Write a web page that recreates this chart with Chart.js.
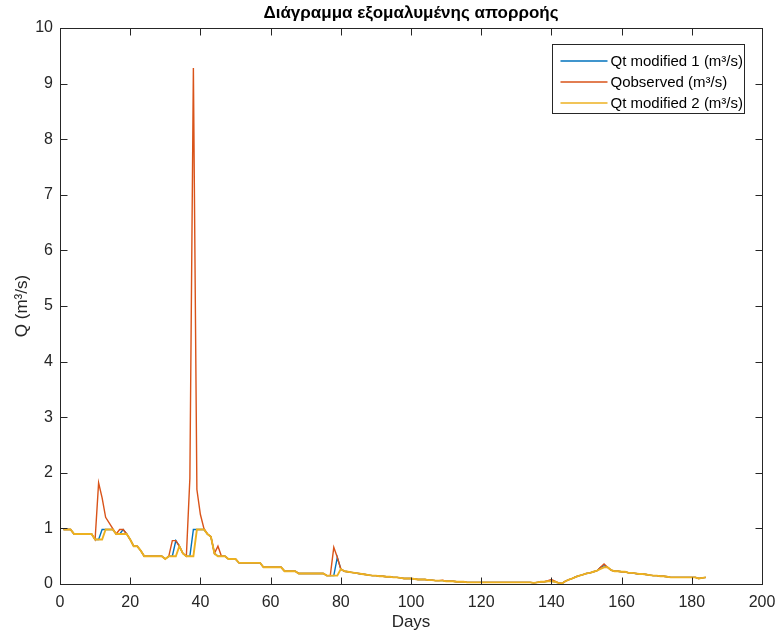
<!DOCTYPE html>
<html lang="el">

<head>
    <meta charset="UTF-8">
    <title>Διάγραμμα εξομαλυμένης απορροής</title>
    <script src="https://cdn.jsdelivr.net/npm/chart.js"></script>
    <style>
        body { margin: 0; background: #fff; }
        #wrap { width: 778px; height: 635px; }
    </style>
</head>

<body>
    <div id="wrap"><canvas id="flowChart"></canvas></div>

    <script>
        // series values, one per day (day 1 .. 184)
        const qtModified1 = [
            0.98, 0.98, 0.98, 0.9, 0.9, 0.9, 0.9, 0.9, 0.9, 0.8,
            0.8, 0.98, 0.98, 0.98, 0.98, 0.9, 0.9, 0.98, 0.9, 0.8,
            0.68, 0.68, 0.6, 0.5, 0.5, 0.5, 0.5, 0.5, 0.5, 0.45,
            0.5, 0.5, 0.78, 0.68, 0.55, 0.5, 0.5, 0.98, 0.98, 0.98,
            0.98, 0.9, 0.85, 0.55, 0.5, 0.5, 0.5, 0.45, 0.45, 0.45,
            0.38, 0.38, 0.38, 0.38, 0.38, 0.38, 0.38, 0.3, 0.3, 0.3,
            0.3, 0.3, 0.3, 0.23, 0.23, 0.23, 0.23, 0.19, 0.19, 0.19,
            0.19, 0.19, 0.19, 0.19, 0.19, 0.15, 0.15, 0.15, 0.48, 0.27,
            0.23, 0.22, 0.21, 0.2, 0.19, 0.18, 0.17, 0.16, 0.15, 0.15,
            0.14, 0.14, 0.13, 0.13, 0.12, 0.12, 0.11, 0.1, 0.1, 0.1,
            0.09, 0.08, 0.08, 0.08, 0.07, 0.07, 0.06, 0.06, 0.06, 0.05,
            0.05, 0.05, 0.04, 0.04, 0.04, 0.03, 0.03, 0.03, 0.03, 0.03,
            0.03, 0.03, 0.03, 0.03, 0.03, 0.03, 0.03, 0.03, 0.03, 0.03,
            0.03, 0.03, 0.03, 0.03, 0.02, 0.03, 0.04, 0.04, 0.05, 0.05,
            0.04, 0.02, 0.01, 0.05, 0.08, 0.1, 0.13, 0.15, 0.17, 0.19,
            0.2, 0.22, 0.24, 0.3, 0.33, 0.3, 0.25, 0.23, 0.23, 0.22,
            0.22, 0.2, 0.2, 0.19, 0.18, 0.18, 0.17, 0.16, 0.15, 0.15,
            0.14, 0.14, 0.13, 0.12, 0.12, 0.12, 0.12, 0.12, 0.12, 0.12,
            0.12, 0.1, 0.11, 0.12
        ];

        const qObserved = [
            0.98, 0.98, 0.98, 0.9, 0.9, 0.9, 0.9, 0.9, 0.9, 0.8,
            1.82, 1.55, 1.2, 1.1, 1.0, 0.9, 0.98, 0.98, 0.9, 0.8,
            0.68, 0.68, 0.6, 0.5, 0.5, 0.5, 0.5, 0.5, 0.5, 0.45,
            0.5, 0.78, 0.78, 0.68, 0.55, 0.5, 1.9, 9.28, 1.7, 1.25,
            1.0, 0.9, 0.85, 0.55, 0.68, 0.5, 0.5, 0.45, 0.45, 0.45,
            0.38, 0.38, 0.38, 0.38, 0.38, 0.38, 0.38, 0.3, 0.3, 0.3,
            0.3, 0.3, 0.3, 0.23, 0.23, 0.23, 0.23, 0.19, 0.19, 0.19,
            0.19, 0.19, 0.19, 0.19, 0.19, 0.15, 0.15, 0.66, 0.48, 0.27,
            0.23, 0.22, 0.21, 0.2, 0.19, 0.18, 0.17, 0.16, 0.15, 0.15,
            0.14, 0.14, 0.13, 0.13, 0.12, 0.12, 0.11, 0.1, 0.1, 0.1,
            0.09, 0.08, 0.08, 0.08, 0.07, 0.07, 0.06, 0.06, 0.07, 0.05,
            0.05, 0.05, 0.04, 0.04, 0.04, 0.03, 0.03, 0.03, 0.03, 0.03,
            0.03, 0.03, 0.03, 0.03, 0.03, 0.03, 0.03, 0.03, 0.03, 0.03,
            0.03, 0.03, 0.03, 0.03, 0.02, 0.03, 0.04, 0.04, 0.06, 0.08,
            0.05, 0.02, 0.01, 0.05, 0.08, 0.1, 0.13, 0.15, 0.17, 0.19,
            0.2, 0.22, 0.24, 0.3, 0.36, 0.3, 0.25, 0.23, 0.23, 0.22,
            0.22, 0.2, 0.2, 0.19, 0.18, 0.18, 0.17, 0.16, 0.15, 0.15,
            0.14, 0.14, 0.13, 0.12, 0.12, 0.12, 0.12, 0.12, 0.12, 0.12,
            0.12, 0.1, 0.11, 0.12
        ];

        const qtModified2 = [
            0.98, 0.98, 0.98, 0.9, 0.9, 0.9, 0.9, 0.9, 0.9, 0.8,
            0.8, 0.8, 0.98, 0.98, 0.98, 0.9, 0.9, 0.9, 0.9, 0.8,
            0.68, 0.68, 0.6, 0.5, 0.5, 0.5, 0.5, 0.5, 0.5, 0.45,
            0.5, 0.5, 0.5, 0.68, 0.55, 0.5, 0.5, 0.5, 0.98, 0.98,
            0.98, 0.9, 0.85, 0.55, 0.5, 0.5, 0.5, 0.45, 0.45, 0.45,
            0.38, 0.38, 0.38, 0.38, 0.38, 0.38, 0.38, 0.3, 0.3, 0.3,
            0.3, 0.3, 0.3, 0.23, 0.23, 0.23, 0.23, 0.19, 0.19, 0.19,
            0.19, 0.19, 0.19, 0.19, 0.19, 0.15, 0.15, 0.15, 0.15, 0.27,
            0.23, 0.22, 0.21, 0.2, 0.19, 0.18, 0.17, 0.16, 0.15, 0.15,
            0.14, 0.14, 0.13, 0.13, 0.12, 0.12, 0.11, 0.1, 0.1, 0.1,
            0.09, 0.08, 0.08, 0.08, 0.07, 0.07, 0.06, 0.06, 0.06, 0.05,
            0.05, 0.05, 0.04, 0.04, 0.04, 0.03, 0.03, 0.03, 0.03, 0.03,
            0.03, 0.03, 0.03, 0.03, 0.03, 0.03, 0.03, 0.03, 0.03, 0.03,
            0.03, 0.03, 0.03, 0.03, 0.02, 0.03, 0.04, 0.04, 0.05, 0.05,
            0.04, 0.02, 0.01, 0.05, 0.08, 0.1, 0.13, 0.15, 0.17, 0.19,
            0.2, 0.22, 0.24, 0.27, 0.3, 0.3, 0.25, 0.23, 0.23, 0.22,
            0.22, 0.2, 0.2, 0.19, 0.18, 0.18, 0.17, 0.16, 0.15, 0.15,
            0.14, 0.14, 0.13, 0.12, 0.12, 0.12, 0.12, 0.12, 0.12, 0.12,
            0.12, 0.1, 0.11, 0.12
        ];

        const days = [];
        for (let d = 1; d <= qtModified2.length; d++) days.push(d);

        const seriesNames = ['Qt modified 1 (m³/s)', 'Qobserved (m³/s)', 'Qt modified 2 (m³/s)'];
        const xTicks = [0, 20, 40, 60, 80, 100, 120, 140, 160, 180, 200];
        const yTicks = [0, 1, 2, 3, 4, 5, 6, 7, 8, 9, 10];

        const chartTitle = 'Διάγραμμα εξομαλυμένης απορροής';
        const xTitle = 'Days';
        const yTitle = 'Q (m³/s)';

        const FONT = '"Liberation Sans", Arial, Helvetica, sans-serif';
        const AXIS_COLOR = '#262626';

        function toPoints(values) {
            return values.map((v, i) => ({ x: days[i], y: v }));
        }

        // draws title, box with inward ticks, axis titles and legend (matlab look)
        const matlabFrame = {
            id: 'matlabFrame',
            afterDatasetsDraw(chart) {
                const ctx = chart.ctx;
                const area = chart.chartArea;
                const xs = chart.scales.x;
                const ys = chart.scales.y;
                const L = Math.round(area.left) + 0.5, R = Math.round(area.right) + 0.5;
                const T = Math.round(area.top) + 0.5, B = Math.round(area.bottom) + 0.5;
                const tick = 7;

                ctx.save();
                ctx.strokeStyle = AXIS_COLOR;
                ctx.lineWidth = 1;
                ctx.strokeRect(L, T, R - L, B - T);

                ctx.beginPath();
                xTicks.forEach(v => {
                    const px = Math.round(xs.getPixelForValue(v)) + 0.5;
                    ctx.moveTo(px, B); ctx.lineTo(px, B - tick);
                    ctx.moveTo(px, T); ctx.lineTo(px, T + tick);
                });
                yTicks.forEach(v => {
                    const py = Math.round(ys.getPixelForValue(v)) + 0.5;
                    ctx.moveTo(L, py); ctx.lineTo(L + tick, py);
                    ctx.moveTo(R, py); ctx.lineTo(R - tick, py);
                });
                ctx.stroke();

                // title
                ctx.fillStyle = '#000';
                ctx.font = 'bold 17px ' + FONT;
                ctx.textAlign = 'center';
                ctx.textBaseline = 'middle';
                ctx.fillText(chartTitle, (area.left + area.right) / 2, 13);

                // axis titles
                ctx.fillStyle = AXIS_COLOR;
                ctx.font = '17px ' + FONT;
                ctx.fillText(xTitle, (area.left + area.right) / 2, 622);
                ctx.save();
                ctx.translate(22, (area.top + area.bottom) / 2);
                ctx.rotate(-Math.PI / 2);
                ctx.fillText(yTitle, 0, 0);
                ctx.restore();

                // legend
                const boxW = 192, boxH = 69;
                const bx = Math.round(area.right - 18 - boxW) + 0.5;
                const by = Math.round(area.top + 16) + 0.5;
                ctx.fillStyle = '#fff';
                ctx.fillRect(bx, by, boxW, boxH);
                ctx.strokeStyle = AXIS_COLOR;
                ctx.strokeRect(bx, by, boxW, boxH);
                ctx.font = '15px ' + FONT;
                ctx.textAlign = 'left';
                chart.data.datasets.forEach((ds, i) => {
                    const ry = by + 16.5 + i * 21;
                    ctx.strokeStyle = ds.borderColor;
                    ctx.lineWidth = 1.5;
                    ctx.beginPath();
                    ctx.moveTo(bx + 8, ry);
                    ctx.lineTo(bx + 55, ry);
                    ctx.stroke();
                    ctx.fillStyle = '#000';
                    ctx.fillText(ds.label, bx + 58, ry + 1);
                });
                ctx.restore();
            }
        };

        const ctx = document.getElementById('flowChart').getContext('2d');
        const flowChart = new Chart(ctx, {
            type: 'line',
            data: {
                datasets: [
                    { label: seriesNames[0], data: toPoints(qtModified1), borderColor: '#0072BD', borderWidth: 1.4, order: 2 },
                    { label: seriesNames[1], data: toPoints(qObserved), borderColor: '#D95319', borderWidth: 1.4, order: 1 },
                    { label: seriesNames[2], data: toPoints(qtModified2), borderColor: '#EDB120', borderWidth: 1.9, order: 0 }
                ]
            },
            options: {
                responsive: true,
                maintainAspectRatio: false,
                animation: false,
                elements: {
                    line: { tension: 0, fill: false },
                    point: { radius: 0, hoverRadius: 0 }
                },
                layout: { padding: { top: 28, right: 16, left: 0, bottom: 0 } },
                scales: {
                    x: {
                        type: 'linear',
                        min: 0,
                        max: 200,
                        grid: { display: false, drawTicks: false },
                        border: { display: false },
                        afterFit: s => { s.height = 51; s.paddingLeft = 0; s.paddingRight = 0; },
                        afterBuildTicks: s => { s.ticks = xTicks.map(v => ({ value: v })); },
                        ticks: {
                            color: AXIS_COLOR,
                            padding: 9,
                            maxRotation: 0,
                            font: { family: FONT, size: 16 }
                        }
                    },
                    y: {
                        min: 0,
                        max: 10,
                        grid: { display: false, drawTicks: false },
                        border: { display: false },
                        afterFit: s => { s.width = 60; s.paddingTop = 0; s.paddingBottom = 0; },
                        afterBuildTicks: s => { s.ticks = yTicks.map(v => ({ value: v })); },
                        ticks: {
                            color: AXIS_COLOR,
                            padding: 7,
                            font: { family: FONT, size: 16 }
                        }
                    }
                },
                plugins: {
                    legend: { display: false },
                    title: { display: false },
                    tooltip: { enabled: false }
                }
            },
            plugins: [matlabFrame]
        });
    </script>
</body>

</html>
